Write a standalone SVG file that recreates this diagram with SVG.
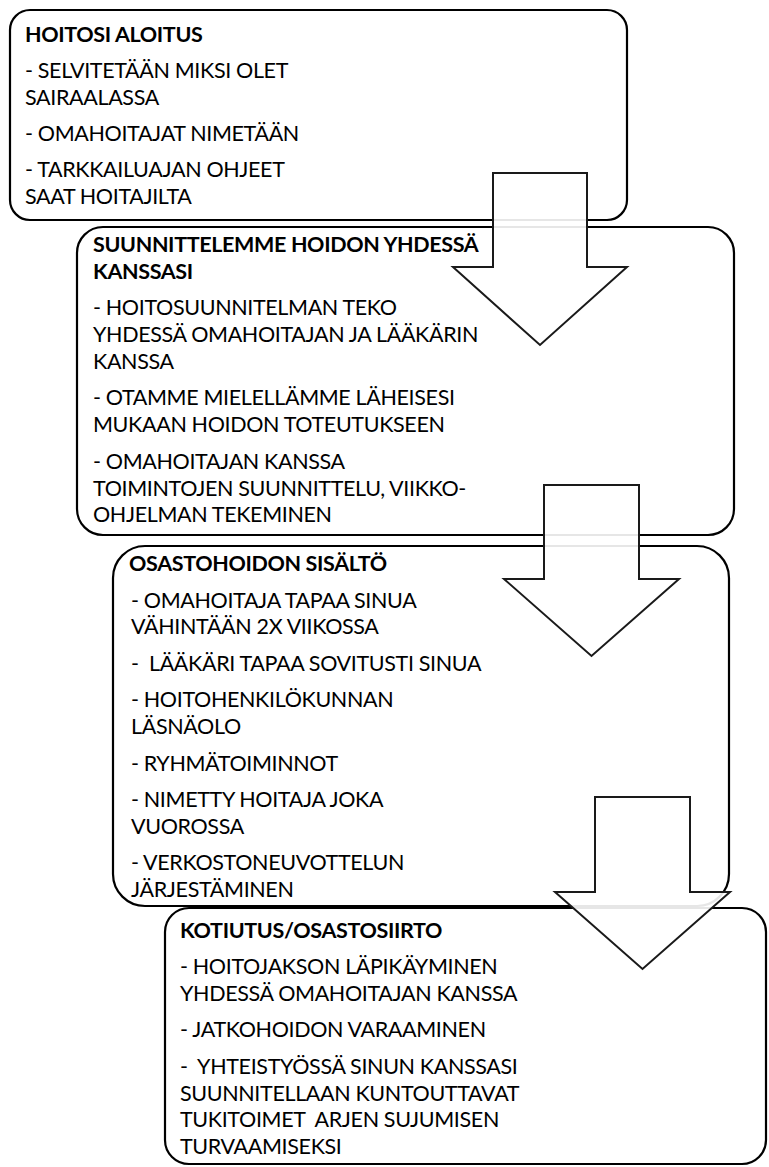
<svg xmlns="http://www.w3.org/2000/svg" width="769" height="1167" viewBox="0 0 769 1167">
<style>
.box{fill:#fff;stroke:#000;stroke-width:2.2}
.arrow{fill:#fff;fill-opacity:0.9;stroke:#1a1a1a;stroke-width:2;stroke-linejoin:miter}
text{font-family:Lato,"Open Sans","Liberation Sans",sans-serif;font-size:21.5px;letter-spacing:-0.35px;fill:#000}
.t{font-weight:bold}
</style>
<rect width="769" height="1167" fill="#fff"/>
<g id="node1">
<rect class="box" x="10" y="10" width="617" height="210" rx="20"/>
<text class="t" x="25" y="41.7">HOITOSI ALOITUS</text>
<text x="25" y="78">- SELVITETÄÄN MIKSI OLET</text>
<text x="25" y="104.8">SAIRAALASSA</text>
<text x="25" y="141.3">- OMAHOITAJAT NIMETÄÄN</text>
<text x="25" y="177.3">- TARKKAILUAJAN OHJEET</text>
<text x="25" y="204">SAAT HOITAJILTA</text>
</g>
<g id="node2">
<rect class="box" x="77" y="227" width="657" height="308" rx="26"/>
<text class="t" x="93" y="252">SUUNNITTELEMME HOIDON YHDESSÄ</text>
<text class="t" x="93" y="278.8">KANSSASI</text>
<text x="93" y="315.3">- HOITOSUUNNITELMAN TEKO</text>
<text x="93" y="342.1">YHDESSÄ OMAHOITAJAN JA LÄÄKÄRIN</text>
<text x="93" y="368.9">KANSSA</text>
<text x="93" y="405.4">- OTAMME MIELELLÄMME LÄHEISESI</text>
<text x="93" y="432.2">MUKAAN HOIDON TOTEUTUKSEEN</text>
<text x="93" y="468.7">- OMAHOITAJAN KANSSA</text>
<text x="93" y="495.5">TOIMINTOJEN SUUNNITTELU, VIIKKO-</text>
<text x="93" y="522.3">OHJELMAN TEKEMINEN</text>
</g>
<g id="node3">
<rect class="box" x="113" y="546" width="616" height="360" rx="32"/>
<text class="t" x="129" y="571">OSASTOHOIDON SISÄLTÖ</text>
<text x="131" y="607.5">- OMAHOITAJA TAPAA SINUA</text>
<text x="131" y="634.3">VÄHINTÄÄN 2X VIIKOSSA</text>
<text x="131" y="670.8" xml:space="preserve">-  LÄÄKÄRI TAPAA SOVITUSTI SINUA</text>
<text x="131" y="707.3">- HOITOHENKILÖKUNNAN</text>
<text x="131" y="734.1">LÄSNÄOLO</text>
<text x="131" y="770.6">- RYHMÄTOIMINNOT</text>
<text x="131" y="807.1">- NIMETTY HOITAJA JOKA</text>
<text x="131" y="833.9">VUOROSSA</text>
<text x="131" y="870.4">- VERKOSTONEUVOTTELUN</text>
<text x="131" y="897.2">JÄRJESTÄMINEN</text>
</g>
<g id="node4">
<rect class="box" x="165" y="908" width="601" height="256" rx="24"/>
<text class="t" x="180" y="937.5">KOTIUTUS/OSASTOSIIRTO</text>
<text x="180" y="974">- HOITOJAKSON LÄPIKÄYMINEN</text>
<text x="180" y="1000.8">YHDESSÄ OMAHOITAJAN KANSSA</text>
<text x="180" y="1037.3">- JATKOHOIDON VARAAMINEN</text>
<text x="180" y="1073.8" xml:space="preserve">-  YHTEISTYÖSSÄ SINUN KANSSASI</text>
<text x="180" y="1100.6">SUUNNITELLAAN KUNTOUTTAVAT</text>
<text x="180" y="1127.4" xml:space="preserve">TUKITOIMET  ARJEN SUJUMISEN</text>
<text x="180" y="1154.2">TURVAAMISEKSI</text>
</g>
<g id="connectors">
<polygon class="arrow" points="493,173 587,173 587,267 627,267 540,345 453,267 493,267"/>
<polygon class="arrow" points="544,485 639,485 639,579 679,579 591.5,656 504,579 544,579"/>
<polygon class="arrow" points="595,797 690,797 690,892 730,892 642.5,969 555,892 595,892"/>
</g>
</svg>
